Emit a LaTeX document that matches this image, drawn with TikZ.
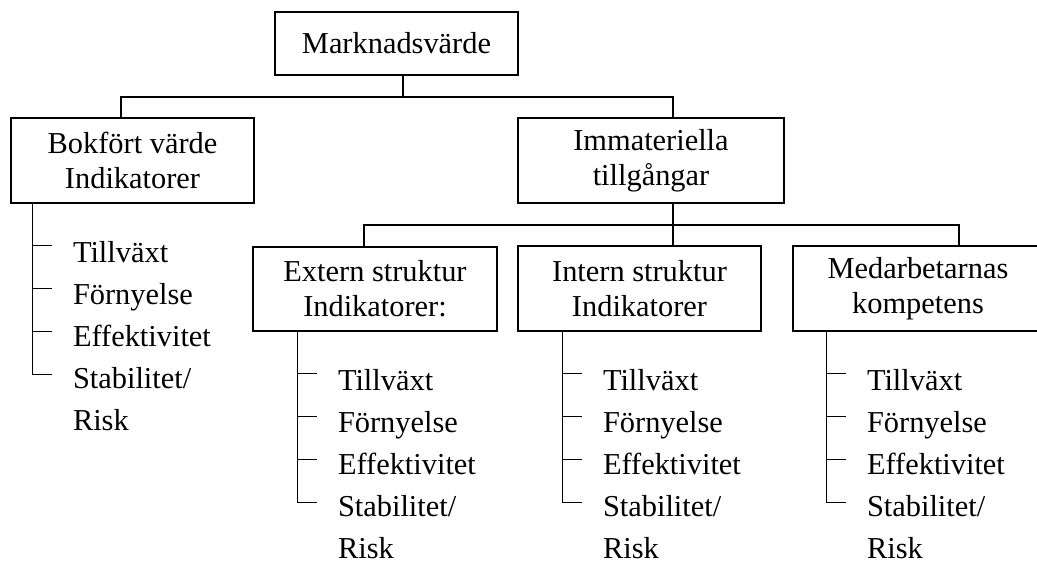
\documentclass[tikz,border=0pt]{standalone}
\usepackage{fontspec}
\setmainfont{Liberation Serif}
\usetikzlibrary{calc}

% indicator list below a box: #1 box name, #2 rail offset from the box's left side
\newcommand{\indlist}[2]{%
	\coordinate (#1-rail) at ($(#1.south west)+(#2,0)$);
	\foreach \txt [count=\k] in {Tillväxt,Förnyelse,Effektivitet,Stabilitet/,Risk}
		\node[item] (#1-\k) at ($(#1-rail)+(40,42*\k+17)$) {\txt};
	\draw (#1-rail) |- ($(#1-rail)+(20,171)$);
	\foreach \k in {1,2,3}
		\draw ($(#1-rail)+(0,43*\k-1)$) -- ++(20,0);
}

\begin{document}
\begin{tikzpicture}[x=0.02cm, y=-0.02cm, line width=0.8pt,
	box/.style = {shape=rectangle, draw, inner sep=0pt, align=center,
		minimum height=1.7cm, font=\fontsize{17.3}{20}\selectfont},
	item/.style = {anchor=base west, inner sep=0pt,
		font=\fontsize{17.3}{20}\selectfont}]
	\useasboundingbox (0,0) rectangle (1037,563);
	% boxes
	\node[box, minimum width=4.86cm, minimum height=1.26cm] (top) at (396.5,43.5) {Marknadsvärde};
	\node[box, minimum width=4.86cm] (bok) at (132.5,160.5) {Bokfört värde\\Indikatorer};
	\node[box, minimum width=5.32cm] (imm) at (651,160.5) {Immateriella\\tillgångar};
	\node[box, minimum width=4.88cm, minimum height=1.68cm] (ext) at (375,289) {Extern struktur\\Indikatorer:};
	\node[box, minimum width=4.86cm] (int) at (639.5,288.5) {Intern struktur\\Indikatorer};
	\node[box, minimum width=5cm] (med) at (918,288.5) {Medarbetarnas\\kompetens};
	% first level
	\coordinate (j1) at (403,97);
	\coordinate (b1) at (121,97);
	\coordinate (i1) at (673,97);
	\draw (top.south -| j1) -- (j1);
	\draw (bok.north -| b1) -- (b1) -- (i1) -- (imm.north -| i1);
	% second level
	\coordinate (j2) at (673,225);
	\coordinate (e2) at (364,225);
	\coordinate (m2) at (959,225);
	\draw (imm.south -| j2) -- (int.north -| j2);
	\draw (ext.north -| e2) -- (e2) -- (m2) -- (med.north -| m2);
	% indicators
	\indlist{bok}{22}
	\indlist{ext}{45}
	\indlist{int}{45}
	\indlist{med}{34}
\end{tikzpicture}
\end{document}
